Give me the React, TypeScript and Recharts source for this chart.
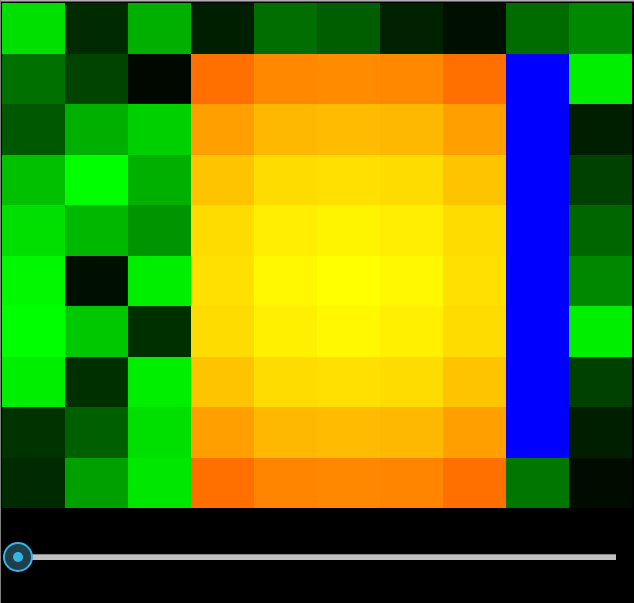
import React from "react";
import { BarChart, Bar, XAxis, YAxis, Cell } from "recharts";

// Cell levels, row by row from the top. Encoding:
//   0..255   -> green intensity  rgb(0, v, 0)
//   256..511 -> warm heat level   rgb(255, v-256, 0)
//   -1       -> blue cell
const row0 = [224, 42, 176, 30, 110, 94, 34, 16, 108, 136];
const row1 = [112, 68, 8, 368, 392, 396, 392, 368, -1, 238];
const row2 = [88, 176, 208, 416, 440, 444, 440, 416, -1, 30];
const row3 = [192, 255, 176, 452, 476, 480, 476, 452, -1, 64];
const row4 = [224, 184, 148, 476, 494, 500, 494, 476, -1, 102];
const row5 = [248, 16, 238, 480, 504, 511, 504, 480, -1, 136];
const row6 = [255, 200, 48, 476, 496, 504, 496, 476, -1, 238];
const row7 = [238, 48, 238, 452, 476, 480, 476, 452, -1, 64];
const row8 = [51, 96, 224, 416, 440, 444, 440, 416, -1, 30];
const row9 = [42, 160, 232, 368, 388, 392, 388, 368, 120, 12];

const rows = [row0, row1, row2, row3, row4, row5, row6, row7, row8, row9];
const columns = ["c0", "c1", "c2", "c3", "c4", "c5", "c6", "c7", "c8", "c9"];

const hex = (n: number) => n.toString(16).padStart(2, "0");
const levelColor = (v: number) => {
  if (v < 0) return "#0000ff";
  if (v <= 255) return `#00${hex(v)}00`;
  return `#ff${hex(Math.min(255, v - 256))}00`;
};

const data = columns.map((c) => {
  const d: Record<string, any> = { col: c };
  rows.forEach((_, ri) => {
    d[`r${ri}`] = 1;
  });
  return d;
});

// bottom of stack first
const stackOrder = rows.map((_, i) => rows.length - 1 - i);

export default function App() {
  return (
    <div
      style={{
        position: "fixed",
        left: 0,
        top: 0,
        width: 634,
        height: 603,
        background: "#000",
        overflow: "hidden",
      }}
    >
      <style>{`body{margin:0;background:#000;} .hm svg{shape-rendering:crispEdges;}`}</style>
      <div style={{ position: "absolute", left: 0, top: 0, width: 634, height: 1, background: "#b0b0b0" }} />
      <div style={{ position: "absolute", left: 0, top: 1, width: 634, height: 1, background: "#606060" }} />
      <div style={{ position: "absolute", left: 0, top: 0, width: 1, height: 603, background: "#808080" }} />
      <div className="hm" style={{ position: "absolute", left: 2, top: 3 }}>
        <BarChart
          width={630}
          height={505}
          data={data}
          margin={{ top: 0, right: 0, bottom: 0, left: 0 }}
          barCategoryGap={0}
          barGap={0}
        >
          <XAxis dataKey="col" hide padding={{ left: 0, right: 0 }} />
          <YAxis hide type="number" domain={[0, 10]} />
          {stackOrder.map((ri) => (
            <Bar key={ri} dataKey={`r${ri}`} stackId="a" isAnimationActive={false}>
              {rows[ri].map((v, ci) => (
                <Cell key={ci} fill={levelColor(v)} />
              ))}
            </Bar>
          ))}
        </BarChart>
      </div>
      {/* slider */}
      <div
        style={{
          position: "absolute",
          left: 30,
          top: 554,
          width: 586,
          height: 6,
          background: "#c0c0c0",
          borderTop: "1px solid #8a8a8a",
          boxSizing: "border-box",
        }}
      />
      <div
        style={{
          position: "absolute",
          left: 3,
          top: 542,
          width: 30,
          height: 30,
          borderRadius: "50%",
          background: "#1f3f4a",
          border: "2px solid #36b4e4",
          boxSizing: "border-box",
        }}
      />
      <div
        style={{
          position: "absolute",
          left: 13,
          top: 552,
          width: 10,
          height: 10,
          borderRadius: "50%",
          background: "#36b4e4",
        }}
      />
    </div>
  );
}
